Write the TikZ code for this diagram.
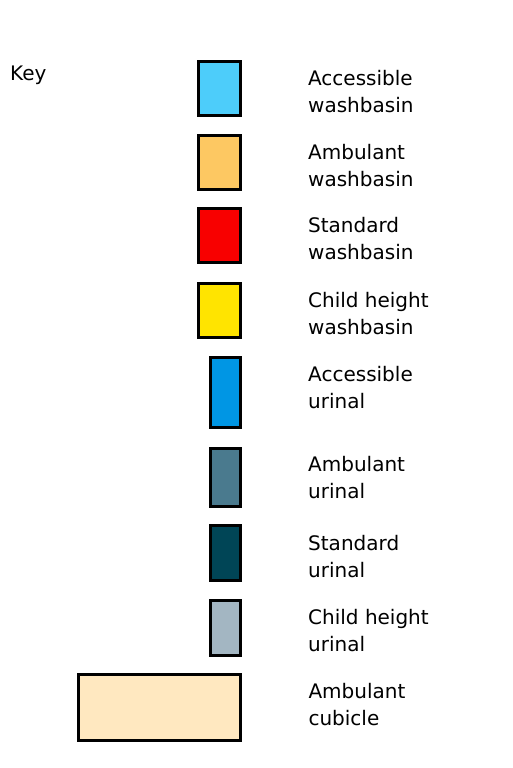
\documentclass[tikz,border=0pt]{standalone}
\usepackage{fontspec}
\setmainfont{DejaVu Sans}
\usetikzlibrary{positioning}
\definecolor{accbasin}{HTML}{4DCDFA}
\definecolor{ambbasin}{HTML}{FDC862}
\definecolor{stdbasin}{HTML}{F80000}
\definecolor{kidbasin}{HTML}{FFE400}
\definecolor{accurinal}{HTML}{0096E4}
\definecolor{amburinal}{HTML}{4A7A8E}
\definecolor{stdurinal}{HTML}{004556}
\definecolor{kidurinal}{HTML}{A3B6C2}
\definecolor{ambcubicle}{HTML}{FFE8C0}

\begin{document}
\begin{tikzpicture}[x=1pt, y=-1pt, every node/.style={font=\fontsize{20}{27}\selectfont},
  swatch/.style={rectangle,draw=black,line width=3pt,inner sep=0pt},
  keytext/.style={align=left,inner sep=0pt}]
\useasboundingbox (0,0) rectangle (513,768);
\node[anchor=base west, inner sep=0pt] (Key) at (10,81) {Key};
% Washbasins
\foreach \i/\y/\col/\txt in {1/88.3/accbasin/Accessible,2/162.2/ambbasin/Ambulant,3/235.5/stdbasin/Standard,4/310.7/kidbasin/Child height} {
  \node[swatch,fill=\col,minimum width=41.7pt,minimum height=53.7pt] (W\i) at (219.3,\y) {};
  \node[keytext,right=66.3pt of W\i,yshift=-3pt] (WL\i) {\txt\\washbasin};
}
% Urinals
\foreach \i/\y/\h/\dy/\col/\txt in {1/392.5/70.6/5/accurinal/Accessible,2/477.5/58.6/0/amburinal/Ambulant,3/553/54.4/-4/stdurinal/Standard,4/627.9/54.7/-3/kidurinal/Child height} {
  \node[swatch,fill=\col,minimum width=29.7pt,minimum height=\h pt] (U\i) at (225.65,\y) {};
  \node[keytext,right=66pt of U\i,yshift=\dy pt] (UL\i) {\txt\\urinal};
}
% Cubicle
\node[swatch,fill=ambcubicle,minimum width=162.6pt,minimum height=65.4pt] (C1) at (159.5,707.5) {};
\node[keytext,right=66pt of C1,yshift=3pt] (CL1) {Ambulant\\cubicle};
\end{tikzpicture}
\end{document}
